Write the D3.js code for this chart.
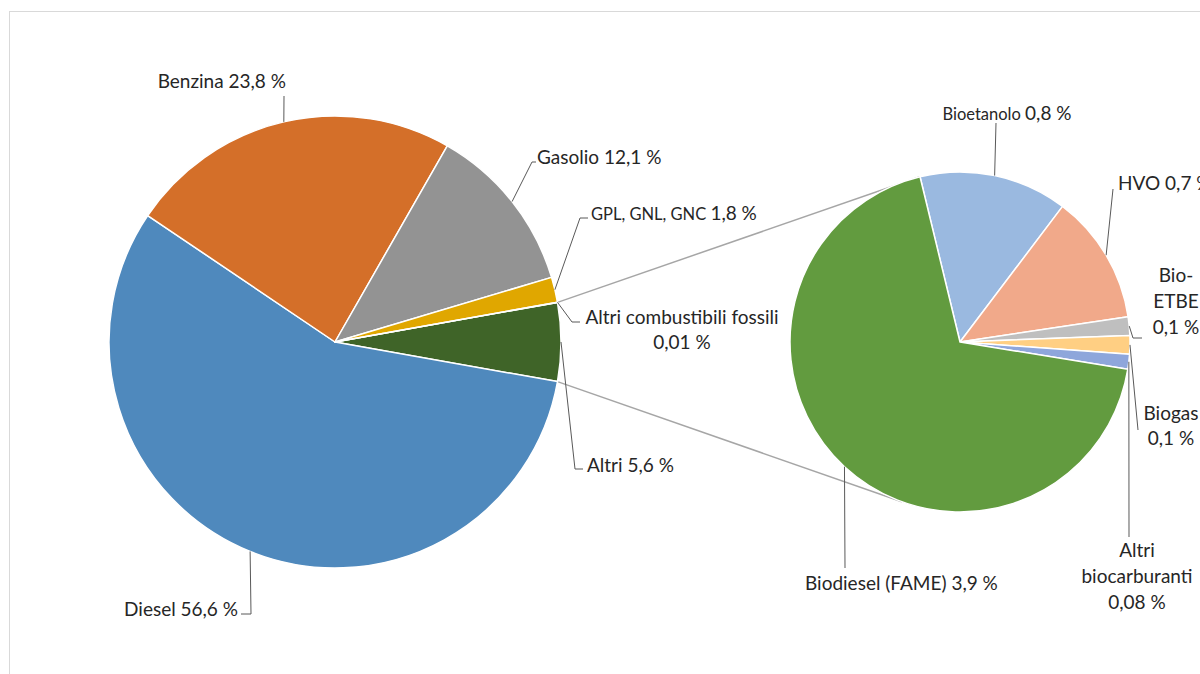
<!DOCTYPE html>
<html>
<head>
<meta charset="utf-8">
<script src="https://cdn.jsdelivr.net/npm/d3@7"></script>
<style>
  html, body { margin: 0; padding: 0; background: #fff; }
  svg { display: block; }
  text { font-family: Lato, "Noto Sans", sans-serif; fill: #262626; }
</style>
</head>
<body>
<svg id="chart" width="1200" height="674"></svg>
<script>
// Fuel shares — main pie
const mainNames = ["Altri", "Diesel", "Benzina", "Gasolio", "GPL, GNL, GNC", "Altri combustibili fossili"];
const mainValues = [5.6, 56.6, 23.8, 12.1, 1.8, 0.01];
const mainPalette = ["#3F6428", "#4F89BD", "#D46F29", "#939393", "#E0A700", "#5A5A5A"];

// Breakdown of "Altri" — secondary pie
const subNames = ["Bioetanolo", "HVO", "Bio-ETBE", "Biogas", "Altri biocarburanti", "Biodiesel (FAME)"];
const subValues = [0.8, 0.7, 0.1, 0.1, 0.08, 3.9];
const subPalette = ["#9AB9E0", "#F1A98A", "#BFBFBF", "#FFCF83", "#8EA6DB", "#629B3F"];

const fmt = v => String(v).replace(".", ",") + " %";

const svg = d3.select("#chart");

// Outer frame
svg.append("rect")
  .attr("x", 9.5).attr("y", 11.5).attr("width", 1300).attr("height", 800)
  .attr("fill", "none").attr("stroke", "#D9D9D9").attr("stroke-width", 1);

const deg = Math.PI / 180;
const main = { cx: 335, cy: 342, r: 226 };
const sub = { cx: 960, cy: 342, r: 170, start: -13.6 * deg };

const mainData = mainNames.map((n, i) => ({ name: n, value: mainValues[i] }));
const subData = subNames.map((n, i) => ({ name: n, value: subValues[i] }));

// "Altri" slice is centred on the right-hand side of the main pie
const mainTotal = d3.sum(mainValues);
const mainStart = Math.PI / 2 - (mainValues[0] / mainTotal) * Math.PI;

const mainArcs = d3.pie().sort(null).value(d => d.value)
  .startAngle(mainStart).endAngle(mainStart + 2 * Math.PI)(mainData);
const subArcs = d3.pie().sort(null).value(d => d.value)
  .startAngle(sub.start).endAngle(sub.start + 2 * Math.PI)(subData);

const mainColor = d3.scaleOrdinal().domain(mainNames).range(mainPalette);
const subColor = d3.scaleOrdinal().domain(subNames).range(subPalette);

const pt = (p, a, r) => [p.cx + r * Math.sin(a), p.cy - r * Math.cos(a)];

// Connector lines between the "Altri" slice and the secondary pie
const altri = mainArcs[0];
const connectors = [
  [pt(main, altri.startAngle, main.r), pt(sub, sub.start, sub.r)],
  [pt(main, altri.endAngle, main.r), pt(sub, 200 * deg, sub.r)]
];
svg.append("g").selectAll("line").data(connectors).join("line")
  .attr("x1", d => d[0][0]).attr("y1", d => d[0][1])
  .attr("x2", d => d[1][0]).attr("y2", d => d[1][1])
  .attr("stroke", "#A6A6A6").attr("stroke-width", 1.5);

function drawPie(p, arcs, color) {
  const arc = d3.arc().innerRadius(0).outerRadius(p.r);
  svg.append("g").attr("transform", `translate(${p.cx},${p.cy})`)
    .selectAll("path").data(arcs).join("path")
    .attr("d", arc)
    .attr("fill", d => color(d.data.name))
    .attr("stroke", "#fff").attr("stroke-width", 1.5).attr("stroke-linejoin", "round");
}
drawPie(main, mainArcs, mainColor);
drawPie(sub, subArcs, subColor);

// Label placement and leader elbows
const mainLabelLayout = {
  "Altri": { x: 587, y: 472, anchor: "start", leader: [[575, 469], [583, 469]] },
  "Diesel": { x: 238, y: 616, anchor: "end", leader: [[251, 614], [241, 614]] },
  "Benzina": { x: 286, y: 88, anchor: "end", leader: [[284, 96]] },
  "Gasolio": { x: 537, y: 164, anchor: "start", leader: [[532, 162], [536, 162]] },
  "GPL, GNL, GNC": { x: 591, y: 220, anchor: "start", smallName: true, leader: [[580, 218], [588, 218]] },
  "Altri combustibili fossili": { x: 682, y: 324, anchor: "middle", lines: ["Altri combustibili fossili"], lh: 25, leader: [[572, 322], [580, 322]] }
};
const subLabelLayout = {
  "Bioetanolo": { x: 1007, y: 120, anchor: "middle", smallName: true, leader: [[996, 123]] },
  "HVO": { x: 1118, y: 190, anchor: "start", leader: [[1113, 189]] },
  "Bio-ETBE": { x: 1176, y: 282, anchor: "middle", lines: ["Bio-", "ETBE"], lh: 26, leader: [[1133, 338], [1142, 338]] },
  "Biogas": { x: 1171, y: 420, anchor: "middle", lines: ["Biogas"], lh: 25, leader: [[1138, 430]] },
  "Altri biocarburanti": { x: 1137, y: 557, anchor: "middle", lines: ["Altri", "biocarburanti"], lh: 26, leader: [[1129, 537]] },
  "Biodiesel (FAME)": { x: 805, y: 590, anchor: "start", leader: [[845, 568]] }
};

function drawLabels(p, arcs, layout) {
  const g = svg.append("g");
  arcs.forEach(a => {
    const L = layout[a.data.name];
    const mid = (a.startAngle + a.endAngle) / 2;
    const pts = [pt(p, mid, p.r), ...L.leader];
    g.append("path")
      .attr("d", d3.line()(pts))
      .attr("fill", "none").attr("stroke", "#595959").attr("stroke-width", 1);

    const t = g.append("text")
      .attr("x", L.x).attr("y", L.y)
      .attr("text-anchor", L.anchor)
      .attr("font-size", 19);
    if (L.lines) {
      const rows = [...L.lines, fmt(a.data.value)];
      rows.forEach((s, i) => {
        t.append("tspan").attr("x", L.x).attr("dy", i === 0 ? 0 : L.lh).text(s);
      });
    } else if (L.smallName) {
      t.append("tspan").attr("font-size", 16.5).text(a.data.name + " ");
      t.append("tspan").text(fmt(a.data.value));
    } else {
      t.text(a.data.name + " " + fmt(a.data.value));
    }
  });
}
drawLabels(main, mainArcs, mainLabelLayout);
drawLabels(sub, subArcs, subLabelLayout);
</script>
</body>
</html>
